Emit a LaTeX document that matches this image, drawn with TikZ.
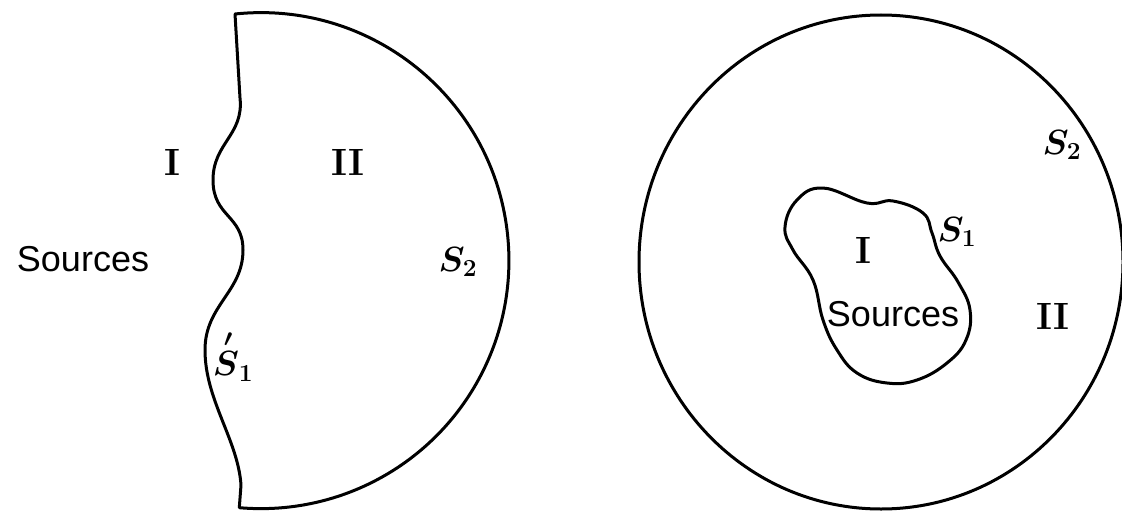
\RequirePackage{fix-cm}
\documentclass[tikz,border=0pt]{standalone}
\usepackage{amsmath}
\usepackage{fontspec}
\newfontfamily\srcfont{Liberation Sans}
\begin{document}
\begin{tikzpicture}[x=1pt,y=-1pt,
  outline/.style={line width=3pt, line join=round},
  roman/.style={inner sep=0pt, font=\fontsize{38}{42}\selectfont\bfseries},
  srcs/.style={inner sep=0pt, font=\srcfont\fontsize{36}{40}\selectfont},
  mlab/.style={inner sep=0pt, font=\fontsize{35}{39}\selectfont\boldmath}]
\useasboundingbox (0,0) rectangle (1122,511);
% left figure
\draw[outline] (235,14) arc[start angle=-96, end angle=95, radius=248]
  -- (241,485)
  .. controls (238,440) and (205,400) .. (205,350)
  .. controls (205,305) and (243,292) .. (243,250)
  .. controls (243,215) and (213,217) .. (213,180)
  .. controls (213,143) and (244,135) .. (240,98)
  -- cycle;
\node[roman] (I1) at (172,162) {I};
\node[roman] (II1) at (348,162) {II};
\node[srcs] (src1) at (83,259) {Sources};
\node[mlab] (S2a) at (458,262) {$S_2$};
\node[mlab] (S1a) at (233,356) {$\overset{\,\prime}{S}_1$};
% right figure
\draw[outline] (881,262) ellipse[x radius=242, y radius=247];
\draw[outline] plot[smooth cycle, tension=0.7] coordinates {(823,188) (867,203) (893,201) (923,213) (932,233) (940,256) (958,282) (970,310) (966,340) (947,363) (917,380) (887,383) (857,373) (837,350) (823,320) (813,280) (793,250) (785,227) (797,200)};
\node[mlab] (S2b) at (1062,145) {$S_2$};
\node[mlab] (S1b) at (957,232) {$S_1$};
\node[roman] (I2) at (863,250) {I};
\node[srcs] (src2) at (893,314) {Sources};
\node[roman] (II2) at (1053,316) {II};
\end{tikzpicture}
\end{document}
